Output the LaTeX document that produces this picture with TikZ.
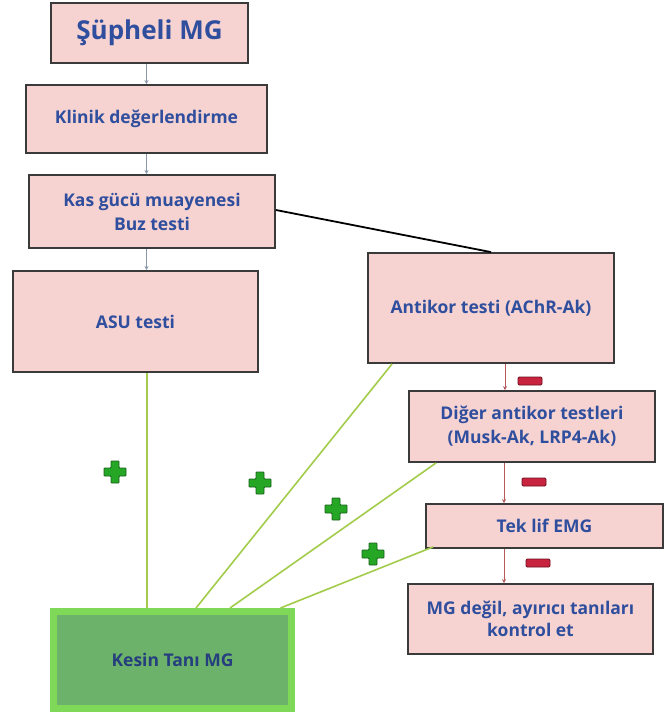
\documentclass[tikz,border=0pt]{standalone}
\usepackage{fontspec}
\setmainfont{Open Sans}
\usetikzlibrary{arrows.meta}
\definecolor{boxfill}{HTML}{F6D3D0}
\definecolor{boxline}{HTML}{3A3A3A}
\definecolor{txtblue}{HTML}{2F4E9E}
\definecolor{greenline}{HTML}{A2CC4A}
\definecolor{kesinout}{HTML}{7FD858}
\definecolor{kesinin}{HTML}{6DB26A}
\definecolor{plusgreen}{HTML}{25A625}
\definecolor{plusdark}{HTML}{17621A}
\definecolor{minusred}{HTML}{C9243F}
\definecolor{minusdark}{HTML}{6E1020}
\definecolor{redline}{HTML}{B85A5A}
\definecolor{grayline}{HTML}{8A96A8}
\tikzset{
  box/.style={draw=boxline, line width=1.8pt, fill=boxfill, inner sep=2pt,
    align=center, text=txtblue, font=\bfseries\fontsize{17.5}{24}\selectfont},
  kesin/.style={draw=kesinout, line width=7pt, fill=kesinin, align=center,
    text=txtblue!80!black, font=\bfseries\fontsize{17.5}{24}\selectfont},
  grayarr/.style={draw=grayline, line width=0.8pt, -{Stealth[length=4pt,width=4pt]}},
  redarr/.style={draw=redline, line width=1pt, -{Stealth[length=4pt,width=4pt]}},
  blackln/.style={draw=black, line width=1.8pt},
  greenln/.style={draw=greenline, line width=1.6pt},
  plussign/.pic={
    \draw[fill=plusgreen, draw=plusdark, line width=0.9pt, rounded corners=0.8pt]
      (-4,-11)--(4,-11)--(4,-4)--(11,-4)--(11,4)--(4,4)--(4,11)--(-4,11)--(-4,4)--(-11,4)--(-11,-4)--(-4,-4)--cycle;
  },
  minussign/.pic={
    \draw[fill=minusred, draw=minusdark, line width=0.9pt, rounded corners=1.2pt]
      (-12,-4) rectangle (12,4);
  }
}
\begin{document}
\begin{tikzpicture}[x=1pt,y=-1pt]
\useasboundingbox[fill=white] (0,0) rectangle (665,716);

\node[box, minimum width=197pt, minimum height=60pt, font=\bfseries\fontsize{26}{30}\selectfont] (b1) at (149.5,33) {Şüpheli MG};
\node[box, minimum width=241pt, minimum height=68pt] (b2) at (146.5,119) {Klinik değerlendirme};
\node[box, minimum width=246pt, minimum height=73pt] (b3) at (152,211.5) {Kas gücü muayenesi\\Buz testi};
\node[box, minimum width=245pt, minimum height=101pt] (asu) at (135.5,321.5) {ASU testi};
\node[box, minimum width=246pt, minimum height=110pt] (ant) at (491,308) {Antikor testi (AChR-Ak)};
\node[box, minimum width=246pt, minimum height=71pt] (dig) at (532,426.5) {Diğer antikor testleri\\(Musk-Ak, LRP4-Ak)};
\node[box, minimum width=237pt, minimum height=44pt] (tek) at (544.5,526) {Tek lif EMG};
\node[box, minimum width=245pt, minimum height=70pt, font=\bfseries\fontsize{17.5}{22}\selectfont] (mgd) at (530.5,619) {MG değil, ayırıcı tanıları\\kontrol et};
\node[kesin, minimum width=238pt, minimum height=97pt] (kes) at (172.5,660) {Kesin Tanı MG};

% top chain
\draw[grayarr] (b2.north |- b1.south) -- (b2.north);
\draw[grayarr] (b2.south) -- (b2.south |- b3.north);
\draw[grayarr] (b2.south |- b3.south) -- (b2.south |- asu.north);

% black line to antikor
\draw[blackln] ([yshift=1.5pt]b3.east) -- (ant.north);

% red chain
\draw[redarr] ([xshift=14pt]ant.south) -- ([xshift=14pt]ant.south |- dig.north);
\draw[redarr] ([xshift=-28pt]dig.south) -- ([xshift=-28pt]dig.south |- tek.north);
\draw[redarr] ([xshift=-28pt]dig.south |- tek.south) -- ([xshift=-28pt]dig.south |- mgd.north);

% green lines
\draw[greenln] ([xshift=11.5pt]asu.south) -- ([xshift=11.5pt]asu.south |- kes.north);
\draw[greenln] ([xshift=25pt]ant.south west) -- ([xshift=23.5pt]kes.north);
\draw[greenln] ([xshift=28pt]dig.south west) -- ([xshift=57.5pt]kes.north);
\draw[greenln] ([xshift=8pt,yshift=2pt]tek.south west) -- ([xshift=108pt]kes.north);

% signs
\pic at (115,472) {plussign};
\pic at (260,483) {plussign};
\pic at (336,509) {plussign};
\pic at (373,554) {plussign};
\pic at (530,381) {minussign};
\pic at (534,482) {minussign};
\pic at (538,563) {minussign};
\end{tikzpicture}
\end{document}
